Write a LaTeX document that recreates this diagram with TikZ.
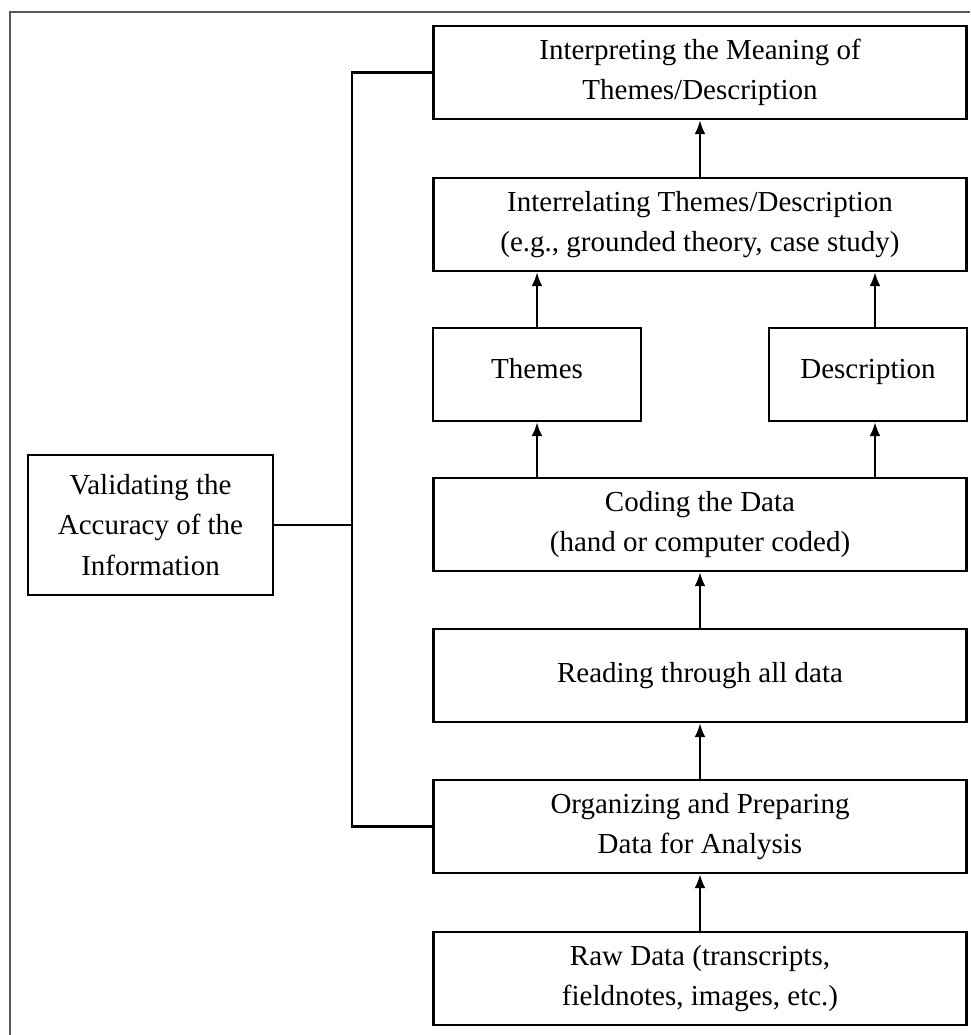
\documentclass[tikz,border=0pt]{standalone}
\usepackage{fontspec}
\setmainfont{Liberation Serif}
\usepackage{tikz}
\usetikzlibrary{arrows.meta, positioning, calc}

\begin{document}
\begin{tikzpicture}[
        >={Latex[length=2.8mm, width=2.2mm]},
        box/.style={draw, line width=1.4pt, align=center, inner sep=2pt,
                     font=\fontsize{16.5}{23}\selectfont,
                     minimum width=10.66cm, minimum height=1.86cm},
        small/.style={box, text height=1.5ex, text depth=0.5ex},
        arr/.style={->, line width=1.3pt},
        link/.style={line width=1.4pt},
    ]

    % ---- Page frame ----
    \useasboundingbox (0,0) rectangle (19.4,-20.7);
    \draw[gray!70!black, line width=0.8pt] (19.4,-0.24) -- (0.2,-0.24) -- (0.2,-20.7);

    % ---- Main column, bottom to top ----
    \node[box] (raw) at (14.0, -19.57)
        {Raw Data (transcripts,\\fieldnotes, images, etc.)};
    \node[box] (org) at (14.0, -16.53)
        {Organizing and Preparing\\Data for Analysis};
    \node[box] (read) at (14.0, -13.51)
        {Reading through all data};
    \node[box] (code) at (14.0, -10.49)
        {Coding the Data\\(hand or computer coded)};

    \node[small, minimum width=4.16cm] (themes) at (10.74, -7.49) {Themes};
    \node[small, minimum width=3.96cm] (descr) at (17.36, -7.49) {Description};

    \node[box] (interrel) at (14.0, -4.49)
        {Interrelating Themes/Description\\(e.g., grounded theory, case study)};
    \node[box] (interp) at (14.0, -1.45)
        {Interpreting the Meaning of\\Themes/Description};

    % ---- Validation box at the side ----
    \node[box, minimum width=4.9cm, minimum height=2.8cm] (valid) at (3.01, -10.5)
        {Validating the\\Accuracy of the\\Information};

    % ---- Arrows up the column ----
    \draw[arr] (raw) -- (org);
    \draw[arr] (org) -- (read);
    \draw[arr] (read) -- (code);
    \draw[arr] (code.north -| themes) -- (themes);
    \draw[arr] ([xshift=0.14cm]code.north -| descr) -- ([xshift=0.14cm]descr.south);
    \draw[arr] (themes) -- (themes |- interrel.south);
    \draw[arr] ([xshift=0.14cm]descr.north) -- ([xshift=0.14cm]descr.north |- interrel.south);
    \draw[arr] (interrel) -- (interp);

    % ---- Bracket from validation ----
    \coordinate (brk) at (7.04, -10.5);
    \draw[link] (interp.west) -| (brk) |- (org.west);
    \draw[link] (valid.east) -- (brk);

\end{tikzpicture}
\end{document}
